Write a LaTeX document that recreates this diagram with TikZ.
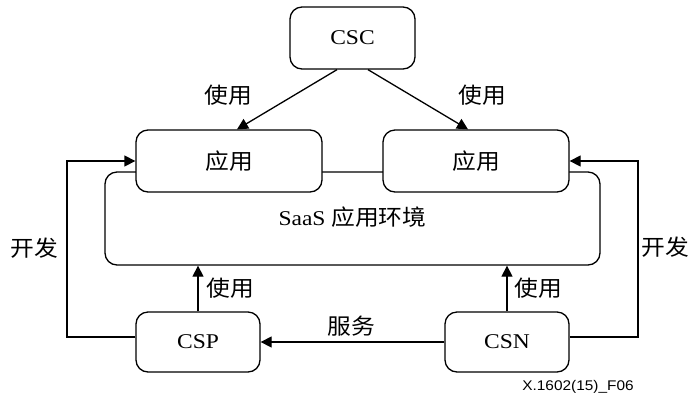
\documentclass[tikz,border=0pt]{standalone}
\usepackage{fontspec}
\setmainfont{Liberation Serif}[FakeStretch=1.12]
\newfontfamily\cjk{Noto Sans CJK SC}[FakeStretch=1.08]
\newfontfamily\arialf{Liberation Sans}[FakeStretch=1.1]
\usetikzlibrary{arrows.meta}
\tikzset{
  box/.style={draw, line width=1.3pt, rounded corners=12pt, fill=white, inner sep=0pt,
    font=\fontsize{21}{25}\selectfont},
  lbl/.style={font=\cjk\fontsize{22}{26}\selectfont, inner sep=0pt},
  arr/.style={line width=1.3pt, -{Triangle[length=11pt,width=11pt]}},
}
\begin{document}
\begin{tikzpicture}[x=1pt,y=-1pt]
\useasboundingbox (0,0) rectangle (695,400);
% SaaS environment
\node[box, minimum width=495pt, minimum height=93pt] (saas) at (352.5,218.5) {};
\node[inner sep=0pt] (saastxt) at (352.5,217) {\fontsize{21}{25}\selectfont SaaS {\cjk\fontsize{22}{26}\selectfont 应用环境}};
% boxes
\node[box, minimum width=125pt, minimum height=62pt] (csc) at (352.5,38) {CSC};
\node[box, minimum width=186pt, minimum height=62pt, font=\cjk\fontsize{22}{26}\selectfont] (appL) at (229,161) {应用};
\node[box, minimum width=186pt, minimum height=62pt, font=\cjk\fontsize{22}{26}\selectfont] (appR) at (476,161) {应用};
\node[box, minimum width=124pt, minimum height=60pt] (csp) at (198,342) {CSP};
\node[box, minimum width=124pt, minimum height=60pt] (csn) at (507,342) {CSN};
% coordinates for bends
\coordinate (lx) at (67,161);
\coordinate (rx) at (638,161);
% connectors
\draw[arr] ([xshift=-15.5pt]csc.south) -- ([xshift=8pt]appL.north);
\draw[arr] ([xshift=15.5pt]csc.south) -- ([xshift=-8pt]appR.north);
\draw[arr] (csp.north) -- (csp.north |- saas.south);
\draw[arr] (csn.north) -- (csn.north |- saas.south);
\draw[arr] (csn.west) -- (csp.east);
\draw[arr] ([yshift=5pt]csp.west) -| (lx) -- (appL.west);
\draw[arr] ([yshift=5pt]csn.east) -| (rx) -- (appR.east);
% labels
\node[lbl] (u1) at (228,95) {使用};
\node[lbl] (u2) at (482,95) {使用};
\node[lbl] (u3) at (230,288) {使用};
\node[lbl] (u4) at (538,288) {使用};
\node[lbl] (fw) at (351,326) {服务};
\node[lbl] (k1) at (34,248) {开发};
\node[lbl] (k2) at (665,247) {开发};
\node[inner sep=0pt, font=\arialf\fontsize{14}{16}\selectfont] (fig) at (578,387) {X.1602(15)\_F06};
\end{tikzpicture}
\end{document}
